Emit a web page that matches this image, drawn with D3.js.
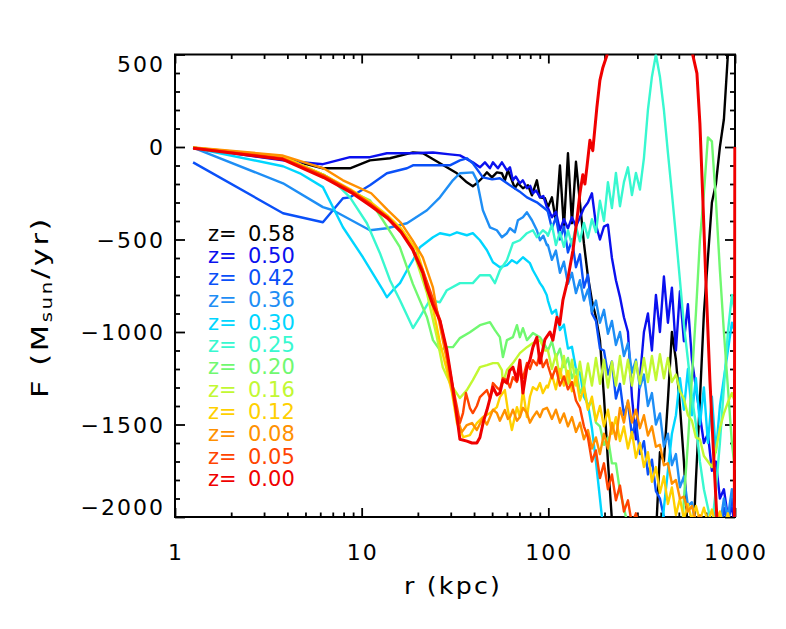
<!DOCTYPE html>
<html><head><meta charset="utf-8">
<script src="https://cdn.jsdelivr.net/npm/d3@7"></script>
<style>body{margin:0;background:#fff}svg{display:block}</style>
</head><body>
<svg id="chart" width="786" height="629"></svg>
<script>
// ---------- data (r in kpc, F in Msun/yr) ----------
const redshifts = ["0.58","0.50","0.42","0.36","0.30","0.25","0.20","0.16","0.12","0.08","0.05","0.00"];
const seriesColors = ["#000000","#0a10ee","#0a50f8","#1e8ef5","#00d6ff","#38f8d0","#70f870","#c2f832","#ffd000","#ff9000","#ff4400","#f00000"];

// inner part (r < 100 kpc), [r, F] pairs
const z058 = [[1.25,-4],[3.79,-60],[6.2,-115],[8.66,-115],[11.07,-72],[14.18,-61],[18.83,-29],[21.3,-34],[26.26,-88],[32.4,-142],[36.6,-191],[39.4,-212],[41.4,-196],[44.1,-169],[46.9,-137],[49.9,-164],[53,-137],[56.4,-142],[58.5,-180],[60.7,-126],[63.8,-180],[66.2,-223],[68.7,-196],[73.1,-223],[77.8,-207],[81.7,-261],[86.8,-180],[90.2,-272],[95.9,-277]];
const z050 = [[1.25,-4],[3.79,-72],[6.2,-93],[8.66,-55],[11.07,-55],[13.65,-34],[18.83,-34],[24.1,-30],[29.7,-40],[33.6,-45],[39.4,-83],[43,-110],[45.75,-83],[48.65,-115],[50.5,-83],[53.7,-115],[56.4,-83],[60,-126],[62.3,-110],[64.6,-180],[67,-160],[70.4,-196],[73,-180],[76.8,-223],[80,-210],[82.7,-250],[86,-235],[90.2,-272],[94,-265],[98.3,-326]];
const z042 = [[1.25,-83],[3.79,-358],[6.2,-407],[7.94,-277],[8.66,-272],[11.07,-207],[13.65,-142],[17.49,-115],[18.83,-99],[24.1,-99],[29.7,-99],[33.6,-72],[36.6,-61],[39.4,-88],[44.6,-164],[50,-175],[55,-169],[62.3,-207],[70,-240],[76.8,-272],[86.8,-299],[98.3,-342]];
const z036 = [[1.25,-4],[3.79,-196],[6.2,-325],[7.02,-342],[11.07,-450],[13.65,-439],[17.49,-412],[22.38,-342],[26.26,-272],[30.8,-180],[33.6,-142],[39.4,-137],[41.4,-180],[44.6,-342],[48.65,-434],[53,-450],[56.4,-488],[60,-466],[62.3,-439],[66.2,-461],[68.7,-396],[73.1,-380],[76.8,-353],[81.7,-396],[86.8,-450],[90.2,-504],[94,-480],[98.3,-531]];
const z030 = [[1.25,-4],[3.79,-104],[4.67,-142],[6.2,-217],[7.94,-434],[10.16,-596],[13,-774],[13.65,-812],[14.7,-774],[16.04,-736],[17.49,-666],[18.83,-612],[20.52,-542],[24.1,-488],[26.26,-466],[29.7,-477],[32.4,-461],[36.6,-477],[39.4,-466],[43,-504],[46.9,-558],[50.5,-623],[55,-650],[60,-639],[63.8,-612],[67.9,-628],[73.1,-596],[79.7,-628],[82.7,-666],[86.8,-704],[90.2,-736],[93.5,-758],[98,-800]];
const z025 = [[1.25,-4],[3.75,-58],[6.25,-150],[7.02,-180],[8.66,-272],[10.67,-412],[12.53,-574],[14.18,-720],[16.04,-828],[18.83,-979],[20.5,-920],[23.2,-828],[26.26,-839],[28.6,-774],[33.6,-736],[39.4,-736],[43,-693],[48.65,-693],[51.75,-736],[55,-666],[60,-612],[64.6,-520],[70.4,-504],[76.8,-466],[82.7,-450],[86.8,-488],[93.5,-450],[98,-466]];
const z020 = [[1.25,-4],[3.75,-55],[6.25,-150],[8.75,-240],[11.07,-288],[13,-396],[16,-540],[18.8,-740],[22.38,-920],[24.1,-1044],[26.26,-1098],[28.6,-1082],[30.8,-1082],[33.6,-1033],[38,-1001],[43,-963],[48.65,-947],[51.75,-990],[55,-1028],[57.1,-1136],[60,-1044],[64.6,-1028],[67.9,-963],[70.4,-1028],[73.1,-979],[76.8,-1044],[82.7,-1006],[90.2,-1028],[95.9,-1071]];
const z016 = [[1.25,-4],[3.75,-52],[6.25,-150],[8.75,-235],[11.25,-305],[13.75,-375],[16.25,-450],[18.83,-558],[22.38,-790],[25.3,-1028],[27.2,-1190],[29.7,-1276],[33.6,-1357],[36.6,-1314],[39.4,-1260],[43,-1190],[46.9,-1179],[50.5,-1168],[53.7,-1168],[56.4,-1206],[57.1,-1276],[60,-1206],[64.6,-1168],[70.4,-1114],[76.8,-1082],[82.7,-1060],[90.2,-1044],[95.9,-1100]];
const z012 = [[1.25,-4],[3.75,-50],[6.25,-150],[8.75,-230],[11.25,-300],[13.75,-370],[16.25,-440],[19.78,-560],[23.2,-790],[26.3,-1060],[28.6,-1206],[30.5,-1330],[32.4,-1492],[35,-1568],[38,-1557],[41.4,-1492],[44.6,-1460],[48.7,-1438],[53,-1406],[55,-1352],[58.5,-1314],[60.7,-1422],[63.8,-1530],[67.9,-1406],[70.4,-1460],[73.1,-1314],[76.8,-1460],[79.7,-1350],[82.7,-1298],[86.8,-1314],[90.2,-1276],[93.5,-1330],[98,-1290]];
const z008 = [[1.25,-3],[3.75,-45],[6.25,-115],[7.94,-180],[11.25,-250],[13.75,-340],[16.25,-410],[18.75,-505],[21.25,-596],[24.1,-760],[25.3,-882],[27.2,-1044],[28.6,-1152],[30.5,-1314],[32.4,-1460],[34.4,-1541],[36.6,-1503],[39,-1492],[41.4,-1530],[44.6,-1465],[46.9,-1500],[48.7,-1460],[50.5,-1420],[53,-1438],[55,-1480],[58.5,-1422],[60.7,-1470],[62.3,-1460],[64.6,-1420],[67.9,-1480],[70.4,-1460],[73.1,-1410],[76.8,-1438],[79.7,-1490],[82.7,-1460],[86.8,-1430],[90.2,-1460],[93.5,-1420],[98.3,-1410]];
const z005 = [[1.25,-5],[3.75,-60],[6.25,-155],[8.75,-235],[11.25,-310],[13.75,-378],[16.25,-455],[18.75,-548],[21.25,-665],[23.2,-774],[26.3,-936],[28.6,-1114],[30.5,-1276],[32.4,-1406],[33.6,-1492],[34.9,-1438],[36.2,-1330],[38,-1411],[39.4,-1438],[41.4,-1400],[43,-1352],[46.9,-1314],[48.7,-1360],[50.5,-1276],[53,-1300],[55,-1314],[57.1,-1250],[60,-1260],[62.3,-1300],[64.6,-1244],[67.9,-1270],[70.4,-1206],[73.1,-1250],[76.8,-1168],[79.7,-1200],[82.7,-1152],[86.8,-1180],[90.2,-1114],[93.5,-1190],[98,-1150]];
const z000 = [[1.25,-7],[3.75,-66],[6.25,-165],[8.75,-245],[11.25,-320],[13.75,-385],[16.25,-460],[18.75,-555],[21.25,-680],[22.4,-765],[24,-850],[26.3,-940],[28.6,-1098],[30.5,-1276],[32.4,-1460],[33.6,-1580],[36.6,-1590],[39,-1600],[41.4,-1600],[43,-1570],[45,-1480],[46.9,-1422],[50.5,-1298],[53,-1340],[55,-1330],[57.1,-1260],[60,-1276],[62,-1210],[64.6,-1190],[67.9,-1260],[70.4,-1152],[73.1,-1330],[76.8,-1190],[79.7,-1152],[82.7,-1082],[86.8,-1028],[90.2,-1168],[95.9,-1040],[102,-1000],[105.8,-1044],[111.2,-920],[115,-960],[119.7,-828],[125.9,-736],[130.5,-650],[135.5,-558],[142,-400],[147.7,-250],[153,-150],[157,-200],[160.9,-110],[167,36],[173,-20],[182,214],[188.9,360],[196,430],[205.9,495],[215,650],[225,800],[580,800],[594.6,495],[625.3,398],[648.6,128],[672.9,-288],[698,-720],[733.8,-1260],[770.7,-1692],[799.4,-2000],[830,-2448],[990,-2700],[998,0]];

// outer part: shared radii (kpc) and F values per series
const rOuter = [99.5,104.5,109.8,115.4,121.2,127.4,133.8,140.6,147.7,155.1,163.0,171.2,179.9,189.0,198.6,208.6,219.1,230.2,241.9,254.1,267.0,280.5,294.6,309.5,325.2,341.6,358.9,377.0,396.1,416.1,437.1,459.2,482.5,506.9,532.5,559.4,587.7,617.4,648.6,681.4,715.9,752.1,790.1,830.0,872.0,916.1,962.5,1000];
const f058 = [-326,-272,-400,-100,-440,-34,-412,-80,-300,-520,-700,-830,-920,-1044,-1350,-1700,-2016,-2300,-2400,-2400,-2400,-2400,-2400,-2400,-2400,-2400,-2400,-2100,-1650,-1700,-1368,-1000,-1150,-1400,-1700,-2100,-2300,-1800,-1368,-900,-600,-300,-200,0,150,500,700,800];
const f050 = [-330,-380,-350,-450,-390,-440,-380,-430,-380,-330,-300,-250,-420,-500,-430,-420,-600,-720,-810,-920,-1000,-1350,-1580,-1250,-1000,-900,-1100,-800,-1000,-700,-950,-760,-1100,-780,-1050,-850,-1150,-1300,-1450,-1600,-1550,-1750,-1700,-1900,-1850,-2000,-1950,-2050];
const f042 = [-350,-440,-380,-500,-430,-570,-500,-650,-580,-760,-690,-900,-940,-1090,-1100,-1230,-1160,-1360,-1280,-1450,-1380,-1560,-1480,-1660,-1590,-1770,-1690,-1860,-1900,-2000,-2100,-2200,-2200,-2200,-2200,-2200,-2200,-2200,-2200,-2200,-2200,-2200,-2200,-2100,-1950,-2050,-1900,-2000];
const f036 = [-530,-610,-560,-680,-620,-740,-680,-790,-720,-830,-770,-890,-830,-950,-880,-1010,-940,-1070,-1000,-1130,-1060,-1220,-1150,-1300,-1230,-1400,-1330,-1500,-1440,-1620,-1550,-1720,-1660,-1840,-1780,-1940,-1920,-2060,-2200,-2200,-2200,-2100,-1950,-2050,-1900,-2000,-1850,-1950];
const f030 = [-830,-900,-880,-990,-960,-1090,-1080,-1200,-1220,-1350,-1390,-1520,-1700,-1900,-2100,-2300,-2300,-2300,-2300,-2300,-2300,-2300,-2300,-2300,-2300,-2300,-2300,-2300,-2200,-1950,-1750,-1550,-1450,-1250,-1420,-1200,-1450,-1250,-1500,-1300,-1600,-1350,-1650,-1400,-1250,-1100,-950,-1000];
const f025 = [-480,-420,-530,-460,-540,-450,-530,-430,-510,-410,-490,-390,-460,-290,-400,-190,-330,-140,-320,-190,-110,-260,-140,-230,-60,200,380,500,380,200,-30,-250,-480,-720,-960,-1150,-1350,-1500,-1700,-1850,-1950,-2050,-1850,-1600,-1300,-1000,-800,-900];
const f020 = [-1100,-1050,-1140,-1090,-1190,-1140,-1250,-1200,-1330,-1290,-1410,-1370,-1490,-1510,-1610,-1570,-1710,-1710,-1860,-1950,-2050,-2300,-2300,-2300,-2300,-2300,-2300,-2300,-2300,-2300,-2300,-2300,-2300,-2300,-1900,-1600,-1250,-900,-504,-250,52,30,-288,-666,-1000,-1300,-1600,-1746];
const f016 = [-1100,-1200,-1120,-1250,-1130,-1280,-1150,-1290,-1160,-1300,-1170,-1290,-1140,-1280,-1150,-1300,-1160,-1290,-1130,-1280,-1150,-1290,-1160,-1280,-1140,-1270,-1130,-1260,-1120,-1250,-1140,-1270,-1230,-1320,-1360,-1450,-1480,-1570,-1580,-1670,-1700,-1730,-1640,-1520,-1440,-1380,-1330,-1380];
const f012 = [-1300,-1230,-1310,-1200,-1290,-1210,-1320,-1240,-1370,-1300,-1420,-1350,-1480,-1400,-1510,-1420,-1550,-1460,-1590,-1510,-1630,-1540,-1680,-1600,-1730,-1650,-1810,-1730,-1870,-1780,-1930,-1840,-1990,-1900,-2010,-1930,-2020,-1940,-2020,-1950,-2030,-1960,-2050,-1970,-2060,-1980,-2060,-2100];
const f008 = [-1420,-1470,-1420,-1490,-1440,-1510,-1460,-1540,-1490,-1580,-1530,-1630,-1570,-1660,-1550,-1630,-1490,-1580,-1410,-1490,-1370,-1490,-1420,-1520,-1450,-1560,-1510,-1620,-1610,-1720,-1710,-1820,-1800,-1900,-1890,-1970,-1940,-2020,-1990,-2050,-2100,-2100,-2100,-2100,-2100,-2100,-2100,-2100];
const f005 = [-1180,-1250,-1190,-1290,-1240,-1310,-1270,-1370,-1410,-1510,-1570,-1700,-1640,-1790,-1710,-1850,-1770,-1910,-1830,-1970,-1910,-2040,-1980,-2070,-2100,-2200,-2200,-2200,-2200,-2200,-2200,-2200,-2200,-2200,-2200,-2200,-2200,-2200,-2200,-2200,-2200,-2200,-2200,-2200,-2200,-2200,-2200,-2200];

const innerParts = [z058,z050,z042,z036,z030,z025,z020,z016,z012,z008,z005,z000];
const outerParts = [f058,f050,f042,f036,f030,f025,f020,f016,f012,f008,f005,null];

const xTickValues = [1,10,100,1000];
const xTickLabels = ["1","10","100","1000"];
const yTickValues = [-2000,-1500,-1000,-500,0,500];
const yTickLabels = ["\u22122000","\u22121500","\u22121000","\u2212500","0","500"];

// ---------- drawing ----------
const svg = d3.select("#chart");
const L = 175, R = 735, T = 54.5, B = 517;
const x = d3.scaleLog().domain([1,1000]).range([L,R]);
const y = d3.scaleLinear().domain([-2000,500]).range([B,T]);

svg.append("rect").attr("width",786).attr("height",629).attr("fill","#fff");
svg.append("defs").append("clipPath").attr("id","clip")
  .append("rect").attr("x",L).attr("y",T).attr("width",R-L+1.6).attr("height",B-T);

// frame and ticks first (data is drawn over them)
const xMinor = [];
[1,10,100].forEach(d=>{for(let k=2;k<=9;k++) xMinor.push(d*k);});
const yMinor = d3.range(-1900,500,100).filter(v=>v%500!==0);
function styleAxis(g){ g.select(".domain").remove(); g.selectAll("line").attr("stroke","#000").attr("stroke-width",1.8); }
svg.append("g").attr("transform",`translate(0,${B})`).call(d3.axisBottom(x).tickValues(xTickValues).tickSize(-9).tickFormat("")).call(styleAxis);
svg.append("g").attr("transform",`translate(0,${B})`).call(d3.axisBottom(x).tickValues(xMinor).tickSize(-4.5).tickFormat("")).call(styleAxis);
svg.append("g").attr("transform",`translate(0,${T})`).call(d3.axisTop(x).tickValues(xTickValues).tickSize(-9).tickFormat("")).call(styleAxis);
svg.append("g").attr("transform",`translate(0,${T})`).call(d3.axisTop(x).tickValues(xMinor).tickSize(-4.5).tickFormat("")).call(styleAxis);
svg.append("g").attr("transform",`translate(${L},0)`).call(d3.axisLeft(y).tickValues(yTickValues).tickSize(-10).tickFormat("")).call(styleAxis);
svg.append("g").attr("transform",`translate(${L},0)`).call(d3.axisLeft(y).tickValues(yMinor).tickSize(-5).tickFormat("")).call(styleAxis);
svg.append("g").attr("transform",`translate(${R},0)`).call(d3.axisRight(y).tickValues(yTickValues).tickSize(-10).tickFormat("")).call(styleAxis);
svg.append("g").attr("transform",`translate(${R},0)`).call(d3.axisRight(y).tickValues(yMinor).tickSize(-5).tickFormat("")).call(styleAxis);
svg.append("rect").attr("x",L).attr("y",T).attr("width",R-L).attr("height",B-T)
  .attr("fill","none").attr("stroke","#000").attr("stroke-width",2);

const line = d3.line().x(d=>x(d[0])).y(d=>y(d[1]));
const gLines = svg.append("g").attr("clip-path","url(#clip)");
innerParts.forEach((inner,i)=>{
  const outer = outerParts[i];
  const pts = outer ? inner.concat(rOuter.map((r,k)=>[r,outer[k]])) : inner;
  gLines.append("path").attr("d",line(pts)).attr("fill","none")
    .attr("stroke",seriesColors[i]).attr("stroke-width", i===11?3:2.4)
    .attr("stroke-linejoin","round");
});

const FONT = "DejaVu Sans, Liberation Sans, sans-serif";
const LS = 2;
xTickValues.forEach((v,i)=>{
  svg.append("text").attr("x",x(v)+LS/2).attr("y",560).attr("text-anchor","middle")
    .attr("font-family",FONT).attr("font-size",22).attr("letter-spacing",LS)
    .attr("fill","#000").text(xTickLabels[i]);
});
yTickValues.forEach((v,i)=>{
  let off = 0;
  if (v===500) off = 9; if (v===-2000) off = -10;
  svg.append("text").attr("x",163+LS).attr("y",y(v)+off+8).attr("text-anchor","end")
    .attr("font-family",FONT).attr("font-size",22).attr("letter-spacing",LS)
    .attr("fill","#000").text(yTickLabels[i]);
});
svg.append("text").attr("x",453).attr("y",594).attr("text-anchor","middle")
  .attr("font-family",FONT).attr("font-size",23).attr("letter-spacing",2)
  .attr("textLength",98).attr("lengthAdjust","spacingAndGlyphs")
  .text("r (kpc)");
const yt = svg.append("text").attr("transform","translate(48,307) rotate(-90)").attr("text-anchor","middle")
  .attr("font-family",FONT).attr("font-size",23).attr("letter-spacing",2)
  .attr("textLength",182).attr("lengthAdjust","spacingAndGlyphs");
yt.append("tspan").text("F (M");
yt.append("tspan").attr("font-size",15).attr("dy",4).text("sun");
yt.append("tspan").attr("dy",-4).text("/yr)");

// legend
redshifts.forEach((z,i)=>{
  const by = 240.5 + i*22.3;
  svg.append("text").attr("x",208).attr("y",by).attr("font-family",FONT).attr("font-size",21)
    .attr("fill",seriesColors[i]).text("z=");
  svg.append("text").attr("x",248).attr("y",by).attr("font-family",FONT).attr("font-size",21)
    .attr("fill",seriesColors[i]).text(z);
});
</script>
</body></html>
